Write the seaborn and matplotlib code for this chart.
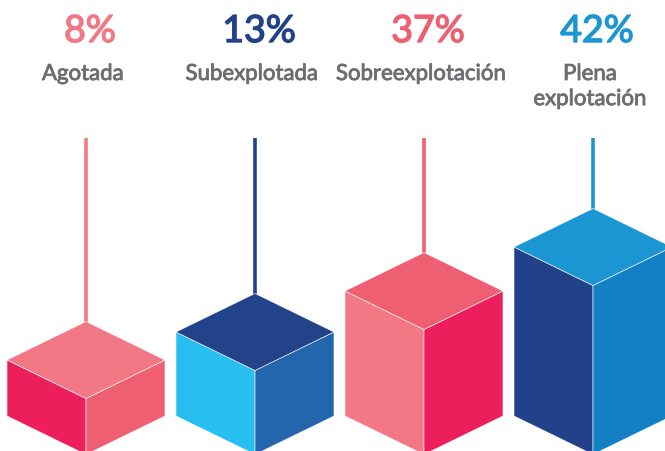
import numpy as np
import pandas as pd
import seaborn as sns
import matplotlib.pyplot as plt
import matplotlib.patheffects as pe
from matplotlib.patches import Polygon

# --- data read from the infographic ---
categories = ["Agotada", "Subexplotada", "Sobreexplotación", "Plena\nexplotación"]
percents = [8, 13, 37, 42]
# visible height of each block (arbitrary units)
block_heights = [56, 84, 125, 169]

text_colors = ["#F27886", "#22418A", "#EF5F72", "#1B96D3"]
stem_colors = ["#F27886", "#22418A", "#EF5F72", "#1B96D3"]
# (top, left, right) face colours
face_colors = [
    ("#F27886", "#EC1F5C", "#EF5F72"),
    ("#22428A", "#27BFEF", "#2366AE"),
    ("#EF5F72", "#F27886", "#EC1F5C"),
    ("#1B96D3", "#22418A", "#1380C4"),
]

df = pd.DataFrame({"category": categories, "percent": percents,
                   "height": block_heights})


def draw_block(ax, cx, base, h, half_w, rise, colors):
    top_c, left_c, right_c = colors
    # left face, right face, top face (isometric box)
    left = [(cx - half_w, base), (cx - half_w, base + h), (cx, base + h - rise), (cx, base - rise)]
    right = [(cx, base - rise), (cx, base + h - rise), (cx + half_w, base + h), (cx + half_w, base)]
    top = [(cx - half_w, base + h), (cx, base + h + rise), (cx + half_w, base + h), (cx, base + h - rise)]
    for pts, c in ((left, left_c), (right, right_c), (top, top_c)):
        ax.add_patch(Polygon(pts, closed=True, facecolor=c, edgecolor="white",
                             linewidth=0.4, joinstyle="miter"))
    return base + h + rise


def plot_stock_blocks():
    sns.set_theme(style="white")
    plt.rcParams["font.family"] = ["Lato", "DejaVu Sans"]

    fig = plt.figure(figsize=(6.65, 4.51), dpi=100)
    ax = fig.add_axes([0, 0, 1, 1])
    ax.set_xlim(0, 665)
    ax.set_ylim(0, 451)
    ax.axis("off")

    base = 35          # left/right bottom corners of the blocks
    stem_top = 313
    half_w, rise = 79, 38.5
    label_gray = "#6D6E71"

    for i, row in df.iterrows():
        cx = 86 + 169 * i
        apex = draw_block(ax, cx, base, row["height"], half_w, rise, face_colors[i])
        ax.plot([cx, cx], [apex, stem_top], color=stem_colors[i], lw=2.6,
                solid_capstyle="butt", zorder=0)
        ax.text(cx + 4, 420, f"{row['percent']}%", color=text_colors[i],
                fontsize=27, ha="center", va="center",
                path_effects=[pe.withStroke(linewidth=1.0, foreground=text_colors[i])])
        ax.text(cx - 3, 387, row["category"], color=label_gray, fontsize=16,
                ha="center", va="top", linespacing=1.32,
                path_effects=[pe.withStroke(linewidth=0.6, foreground=label_gray)])

    fig.savefig("out.png", dpi=100, facecolor="white")


if __name__ == "__main__":
    plot_stock_blocks()
